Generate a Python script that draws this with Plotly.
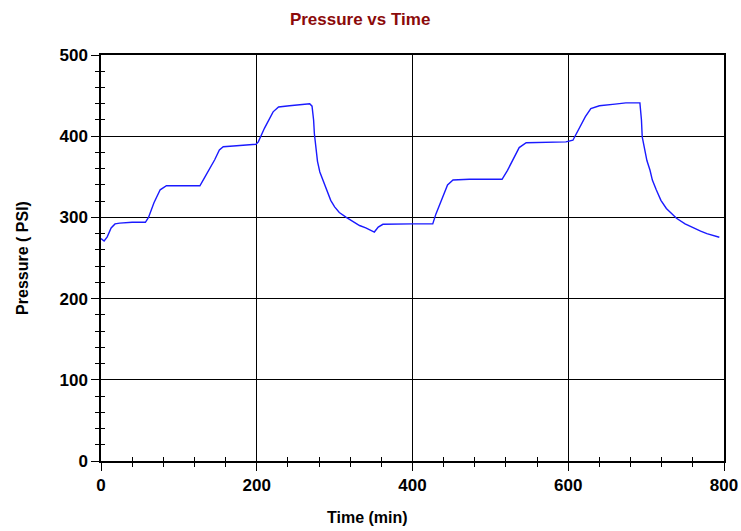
import plotly.graph_objects as go

# Pressure log: elapsed time (min) and gauge pressure (PSI)
time_min = [0, 4, 8, 13, 18, 24, 40, 57, 61, 68, 76, 84, 100, 127, 133, 140, 146,
            152, 157, 170, 190, 199, 202, 210, 221, 228, 242, 260, 268, 271, 273,
            274, 276, 278, 281, 284, 287, 291, 295, 300, 306, 315, 322, 332, 340,
            351, 356, 362, 400, 426, 430, 438, 445, 452, 473, 500, 515, 522, 530,
            537, 546, 570, 597, 606, 614, 622, 629, 640, 660, 674, 692, 694, 695,
            698, 701, 705, 708, 713, 719, 726, 732, 739, 750, 760, 770, 778, 794]
pressure_psi = [274, 271, 276, 287, 292, 293, 294, 294, 300, 318, 334, 339, 339, 339,
                349, 360, 371, 383, 387, 388, 389, 390, 393, 410, 430, 436, 437.5,
                439, 440, 437, 420, 403, 385, 369, 356, 348, 340, 330, 321, 313, 306,
                300, 296, 290, 287, 282, 288, 291.5, 292, 292, 304, 322, 340, 346,
                347, 347, 347, 358, 372, 386, 392, 392.5, 393, 395, 410, 424, 434,
                437.5, 439.5, 441, 441, 420, 399, 385, 370, 358, 346, 334, 321, 311,
                305, 299, 292, 287, 283, 280, 275.5]

x_range = [0, 800]
y_range = [0, 500]

tick_font = dict(family="Liberation Sans, Arial", size=17, color="black", weight="bold")
label_font = dict(family="Liberation Sans, Arial", size=16, color="black", weight="bold")

fig = go.Figure()
fig.add_trace(go.Scatter(x=time_min, y=pressure_psi, mode="lines",
                         line=dict(color="#1a1aff", width=1.4),
                         showlegend=False, hoverinfo="x+y"))
# hidden trace carrying the overlay axes (inner half of the crossing ticks)
fig.add_trace(go.Scatter(x=x_range, y=y_range, xaxis="x2", yaxis="y2",
                         mode="markers", marker=dict(opacity=0),
                         showlegend=False, hoverinfo="skip"))

axis_common = dict(showline=True, linecolor="black", linewidth=1.5, mirror=True,
                   showgrid=True, gridcolor="black", gridwidth=1.2,
                   zeroline=False, ticks="outside", ticklen=8, tickwidth=1.2,
                   tickcolor="black", tickfont=tick_font, automargin=False)

fig.update_layout(
    width=741, height=531,
    margin=dict(l=101, r=17, t=55, b=70),
    paper_bgcolor="white", plot_bgcolor="white",
    title=dict(text="Pressure vs Time", x=0.486, xref="container", xanchor="center",
               y=0.964, yref="container", yanchor="middle",
               font=dict(family="Liberation Sans Narrow, Arial Narrow, Liberation Sans",
                         size=17, color="#8b0a0a", weight="bold")),
    xaxis=dict(range=x_range, dtick=200, tick0=0,
               minor=dict(dtick=40, ticks="outside", ticklen=4, tickwidth=1.2,
                          tickcolor="black", showgrid=False),
               **axis_common),
    yaxis=dict(range=y_range, dtick=100, tick0=0,
               minor=dict(dtick=20, ticks="outside", ticklen=4, tickwidth=1.2,
                          tickcolor="black", showgrid=False),
               **axis_common),
    xaxis2=dict(overlaying="x", range=x_range, dtick=200, tick0=0, showgrid=False,
                showticklabels=False, zeroline=False, ticks="", anchor="y2",
                automargin=False,
                minor=dict(dtick=40, ticks="inside", ticklen=4, tickwidth=1.2,
                           tickcolor="black", showgrid=False)),
    yaxis2=dict(overlaying="y", range=y_range, dtick=100, tick0=0, showgrid=False,
                showticklabels=False, zeroline=False, ticks="", anchor="x2",
                automargin=False,
                minor=dict(dtick=20, ticks="inside", ticklen=4, tickwidth=1.2,
                           tickcolor="black", showgrid=False)),
    annotations=[
        dict(text="Time (min)", xref="paper", yref="paper", x=0.427, y=-0.14,
             xanchor="center", yanchor="middle", showarrow=False, font=label_font),
        dict(text="Pressure ( PSI)", xref="paper", yref="paper", x=-0.127, y=0.5,
             xanchor="center", yanchor="middle", textangle=-90, showarrow=False,
             font=label_font),
    ],
)

fig.write_html("out.html")
